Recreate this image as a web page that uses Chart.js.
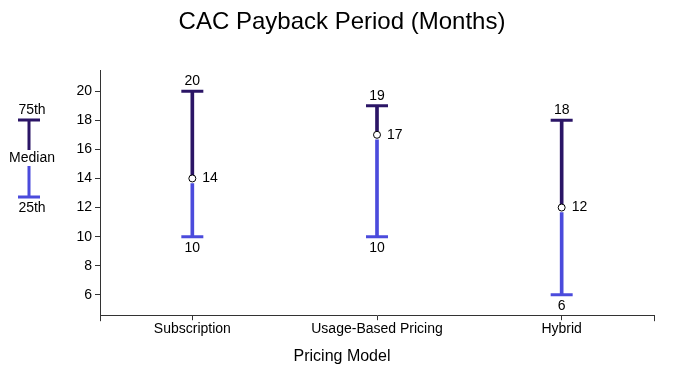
<!DOCTYPE html>
<html>
<head>
<meta charset="utf-8">
<script src="https://cdn.jsdelivr.net/npm/chart.js@4.4.0/dist/chart.umd.min.js"></script>
<style>
  html, body { margin: 0; padding: 0; background: #fff; }
  #wrap { width: 684px; height: 384px; }
</style>
</head>
<body>
<div id="wrap"><canvas id="chart" width="684" height="384"></canvas></div>
<script>
    'use strict';

    var categories = ["Subscription", "Usage-Based Pricing", "Hybrid"];
    var p25 = [10, 10, 6];
    var median = [14, 17, 12];
    var p75 = [20, 19, 18];
    var yTicks = [6, 8, 10, 12, 14, 16, 18, 20];

    var DARK = "#2b1566";
    var BLUE = "#4b4bdc";
    var FONT = "'Liberation Sans', Arial, Helvetica, sans-serif";

    Chart.defaults.font.family = FONT;
    Chart.defaults.color = "#000";

    // value labels, left legend, x axis title and end ticks
    var annotate = {
        id: "annotate",
        afterDatasetsDraw: function (chart) {
            var ctx = chart.ctx;
            var x = chart.scales.x, y = chart.scales.y;
            ctx.save();
            ctx.fillStyle = "#000";
            ctx.font = "14px " + FONT;
            ctx.textAlign = "center";
            categories.forEach(function (c, i) {
                var cx = x.getPixelForValue(i);
                ctx.textBaseline = "middle";
                ctx.fillText(String(p75[i]), cx, y.getPixelForValue(p75[i]) - 10);
                ctx.fillText(String(p25[i]), cx, y.getPixelForValue(p25[i]) + 11);
                ctx.textAlign = "left";
                ctx.fillText(String(median[i]), cx + 10, y.getPixelForValue(median[i]));
                ctx.textAlign = "center";
            });

            // end ticks of x axis
            ctx.strokeStyle = "#333";
            ctx.lineWidth = 1;
            [chart.chartArea.left, chart.chartArea.right].forEach(function (px) {
                ctx.beginPath();
                ctx.moveTo(Math.round(px) + 0.5, chart.chartArea.bottom);
                ctx.lineTo(Math.round(px) + 0.5, chart.chartArea.bottom + 6);
                ctx.stroke();
            });

            // x axis title, centred on the page
            ctx.font = "16px " + FONT;
            ctx.textAlign = "center";
            ctx.textBaseline = "middle";
            ctx.fillText("Pricing Model", chart.width / 2, 357);

            // legend on the left
            var lx = 29;
            ctx.lineWidth = 3;
            ctx.strokeStyle = DARK;
            ctx.beginPath();
            ctx.moveTo(lx - 11, 120); ctx.lineTo(lx + 11, 120);
            ctx.moveTo(lx, 120); ctx.lineTo(lx, 150);
            ctx.stroke();
            ctx.strokeStyle = BLUE;
            ctx.beginPath();
            ctx.moveTo(lx, 166); ctx.lineTo(lx, 197);
            ctx.moveTo(lx - 11, 197); ctx.lineTo(lx + 11, 197);
            ctx.stroke();
            ctx.font = "14px " + FONT;
            ctx.fillText("75th", lx + 3, 110);
            ctx.fillText("Median", lx + 3, 158);
            ctx.fillText("25th", lx + 3, 208);
            ctx.restore();
        }
    };

    var ctx = document.getElementById("chart").getContext("2d");

    new Chart(ctx, {
        type: "bar",
        data: {
            labels: categories,
            datasets: [
                {
                    label: "median-75th",
                    data: categories.map(function (c, i) { return [median[i], p75[i]]; }),
                    backgroundColor: DARK,
                    barThickness: 3,
                    grouped: false,
                    order: 3
                },
                {
                    label: "25th-median",
                    data: categories.map(function (c, i) { return [p25[i], median[i] - 0.35]; }),
                    backgroundColor: BLUE,
                    barThickness: 3,
                    grouped: false,
                    order: 3
                },
                {
                    type: "line",
                    label: "75th",
                    data: p75,
                    showLine: false,
                    pointStyle: "line",
                    pointRadius: 11,
                    pointHoverRadius: 11,
                    borderColor: DARK,
                    borderWidth: 3,
                    order: 2
                },
                {
                    type: "line",
                    label: "25th",
                    data: p25,
                    showLine: false,
                    pointStyle: "line",
                    pointRadius: 11,
                    pointHoverRadius: 11,
                    borderColor: BLUE,
                    borderWidth: 3,
                    order: 2
                },
                {
                    type: "line",
                    label: "Median",
                    data: median,
                    showLine: false,
                    pointStyle: "circle",
                    pointRadius: 3.5,
                    pointBackgroundColor: "#fff",
                    pointBorderColor: "#000",
                    pointBorderWidth: 1,
                    order: 1
                }
            ]
        },
        options: {
            responsive: false,
            animation: false,
            layout: { padding: { left: 30, right: 30, top: 0, bottom: 45 } },
            plugins: {
                legend: { display: false },
                tooltip: { enabled: false },
                title: {
                    display: true,
                    text: "CAC Payback Period (Months)",
                    font: { size: 24, weight: "normal" },
                    color: "#000",
                    padding: { top: 8, bottom: 34 }
                }
            },
            scales: {
                x: {
                    type: "category",
                    offset: true,
                    grid: {
                        offset: false,
                        drawOnChartArea: false,
                        drawTicks: true,
                        tickLength: 5,
                        color: "#333"
                    },
                    border: { color: "#333", width: 1 },
                    ticks: { font: { size: 14 }, color: "#000", padding: 1, maxRotation: 0 }
                },
                y: {
                    min: 4.6,
                    max: 21.4,
                    afterBuildTicks: function (scale) {
                        scale.ticks = yTicks.map(function (v) { return { value: v }; });
                    },
                    afterFit: function (scale) { scale.width = 70; },
                    grid: {
                        drawOnChartArea: false,
                        drawTicks: true,
                        tickLength: 5,
                        color: "#333"
                    },
                    border: { color: "#333", width: 1 },
                    ticks: { font: { size: 14 }, color: "#000", padding: 3 }
                }
            }
        },
        plugins: [annotate]
    });
</script>
</body>
</html>
